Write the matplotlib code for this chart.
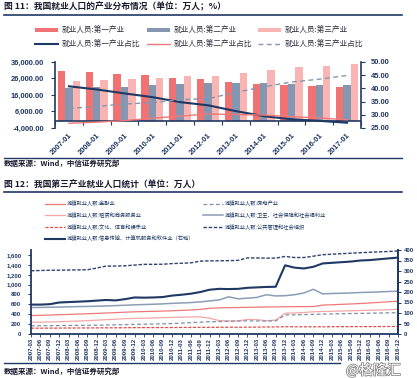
import matplotlib
matplotlib.use('Agg')
import matplotlib.pyplot as plt
from matplotlib.lines import Line2D
import matplotlib.patheffects as pe
import numpy as np

W, H = 417, 378
CJK = ['Noto Sans CJK SC', 'DejaVu Sans']
NUM = ['Liberation Sans', 'DejaVu Sans']
NAVY = '#1F3864'

# ---------------- Chart 1 data ----------------
years = ['2007-01', '2008-01', '2009-01', '2010-01', '2011-01', '2012-01',
         '2013-01', '2014-01', '2015-01', '2016-01', '2017-01']
primary = [30731, 29923, 28890, 27931, 26594, 25773, 24171, 22790, 21919, 21496, 20944]
secondary = [20186, 20553, 21080, 21842, 22544, 23241, 23170, 23099, 22693, 22350, 21824]
tertiary = [24404, 25087, 25857, 26332, 27282, 27690, 29636, 31364, 32839, 33757, 34872]
primary_share = [40.8, 39.6, 38.1, 36.7, 34.8, 33.6, 31.4, 29.5, 28.3, 27.7, 27.0]
secondary_share = [26.8, 27.2, 27.8, 28.7, 29.5, 30.3, 30.1, 29.9, 29.3, 28.8, 28.1]
tertiary_share = [32.4, 33.2, 34.1, 34.6, 35.7, 36.1, 38.5, 40.6, 42.4, 43.5, 44.9]
left_ticks1 = [-4000, 6000, 16000, 26000, 36000]
right_ticks1 = [25, 30, 35, 40, 45, 50]

# ---------------- Chart 2 data ----------------
quarters = ['2007-03', '2007-06', '2007-09', '2007-12', '2008-03', '2008-06', '2008-09', '2008-12',
            '2009-03', '2009-06', '2009-09', '2009-12', '2010-03', '2010-06', '2010-09', '2010-12',
            '2011-03', '2011-06', '2011-09', '2011-12', '2012-03', '2012-06', '2012-09', '2012-12',
            '2013-03', '2013-06', '2013-09', '2013-12', '2014-03', '2014-06', '2014-09', '2014-12',
            '2015-03', '2015-06', '2015-09', '2015-12', '2016-03', '2016-06', '2016-09', '2016-12']
finance = [372, 378, 384, 390, 396, 403, 410, 417, 425, 433, 441, 449, 454, 459, 464, 470,
           478, 486, 500, 520, 528, 533, 536, 540, 543, 546, 549, 552, 553, 554, 556, 585,
           592, 600, 608, 617, 628, 640, 652, 665]
real_estate = [166, 167, 168, 170, 172, 174, 176, 178, 182, 186, 190, 194, 198, 202, 206, 211,
               220, 230, 240, 248, 252, 258, 263, 268, 263, 263, 265, 385, 388, 392, 398, 402,
               406, 410, 414, 417, 421, 425, 428, 431]
leasing = [236, 240, 244, 249, 255, 262, 270, 280, 290, 300, 310, 315, 320, 325, 330, 335,
           340, 345, 348, 318, 270, 264, 265, 295, 290, 270, 280, 420, 425, 435, 450, 455,
           460, 465, 470, 475, 480, 485, 490, 500]
health = [535, 538, 542, 545, 550, 555, 558, 562, 568, 575, 582, 590, 596, 602, 610, 620,
          628, 636, 650, 670, 690, 752, 712, 725, 740, 795, 770, 775, 795, 830, 905, 812,
          820, 825, 830, 840, 845, 852, 860, 867]
culture = [118, 118, 119, 120, 121, 122, 123, 124, 125, 126, 127, 129, 129, 130, 130, 131,
           132, 133, 134, 135, 136, 137, 137, 138, 140, 142, 144, 147, 146, 146, 146, 146,
           147, 148, 149, 150, 150, 151, 151, 152]
public_admin = [1280, 1285, 1290, 1292, 1295, 1298, 1300, 1335, 1375, 1375, 1380, 1395,
                1410, 1410, 1412, 1425, 1432, 1440, 1475, 1480, 1482, 1485, 1490, 1540,
                1538, 1535, 1535, 1570, 1548, 1548, 1575, 1605, 1615, 1625, 1635, 1645,
                1655, 1662, 1670, 1680]
info_tech = [140, 140, 142, 150, 152, 154, 156, 159, 162, 160, 166, 174, 173, 174, 176, 183,
             187, 192, 200, 211, 215, 214, 215, 220, 222, 224, 225, 327, 316, 312, 320, 336,
             339, 342, 345, 350, 352, 356, 360, 364]
left_ticks2 = [0, 200, 400, 600, 800, 1000, 1200, 1400, 1600]
right_ticks2 = [0, 50, 100, 150, 200, 250, 300, 350, 400]

fig = plt.figure(figsize=(W / 100, H / 100), dpi=100)
fig.patch.set_facecolor('white')


def fx(x):
    return x / W


def fy(y):
    return 1 - y / H


def hline(y, x0=4, x1=402, lw=1.2, color=NAVY):
    fig.add_artist(Line2D([fx(x0), fx(x1)], [fy(y), fy(y)], color=color, lw=lw,
                          transform=fig.transFigure))


# ---------------- Titles / separators ----------------
fig.text(fx(4), fy(7), '图 11：我国就业人口的产业分布情况（单位：万人；%）', family=CJK,
         fontsize=6.3, fontweight='bold', color='#1a1a2e', va='center', ha='left')
hline(14.5)
fig.text(fx(4), fy(163), '数据来源：Wind，中信证券研究部', family=CJK, fontsize=5.4,
         fontweight='bold', color='#1a1a2e', va='center', ha='left')
hline(158, lw=1.0)

fig.text(fx(4), fy(185), '图 12：我国第三产业就业人口统计（单位：万人）', family=CJK,
         fontsize=6.3, fontweight='bold', color='#1a1a2e', va='center', ha='left')
hline(192)
hline(363, x1=340, lw=1.0)
fig.text(fx(4), fy(371), '数据来源：Wind，中信证券研究部', family=CJK, fontsize=5.4,
         fontweight='bold', color='#1a1a2e', va='center', ha='left')

# ---------------- Chart 1 ----------------
ax1 = fig.add_axes([fx(55), fy(128), 306 / W, 66 / H])
x = np.arange(len(years))
bw = 0.265
b1 = ax1.bar(x - bw, primary, bw, color='#F07272', label='就业人员:第一产业', zorder=2)
b2 = ax1.bar(x, secondary, bw, color='#8496B0', label='就业人员:第二产业', zorder=2)
b3 = ax1.bar(x + bw, tertiary, bw, color='#F9B4B4', label='就业人员:第三产业', zorder=2)
ax1.set_xlim(-0.5, len(years) - 0.5)
ax1.set_ylim(-4000, 36000)
ax1.axhline(0, color=NAVY, lw=1.2, zorder=3)
ax1.vlines(np.arange(len(years) + 1) - 0.5, -2200, 0, color=NAVY, lw=0.8, clip_on=False)
for s in ['top', 'bottom', 'right']:
    ax1.spines[s].set_visible(False)
ax1.spines['left'].set_color(NAVY)
ax1.spines['left'].set_linewidth(1.2)
ax1.set_yticks(left_ticks1)
ax1.set_yticklabels([f'{v:,.2f}' for v in left_ticks1])
ax1.tick_params(axis='y', length=3, width=0.8, color=NAVY, pad=5, labelsize=5.4,
                labelcolor=NAVY)
ax1.set_xticks(x)
ax1.set_xticklabels(years)
ax1.tick_params(axis='x', length=0, pad=3, labelsize=5.4, labelcolor=NAVY)
for lab in ax1.get_xticklabels() + ax1.get_yticklabels():
    lab.set_family(NUM)
    lab.set_fontweight('bold')
for lab in ax1.get_xticklabels():
    lab.set_rotation(45)
    lab.set_ha('right')
    lab.set_va('top')
    lab.set_rotation_mode('anchor')

ax1r = ax1.twinx()
ax1r.set_ylim(25, 50)
l1, = ax1r.plot(x, primary_share, color=NAVY, lw=1.5, label='就业人员:第一产业占比')
l2, = ax1r.plot(x, secondary_share, color='#F07878', lw=1.0, label='就业人员:第二产业占比')
l3, = ax1r.plot(x, tertiary_share, color='#8496B0', lw=1.0, ls=(0, (3.5, 2.5)),
                label='就业人员:第三产业占比')
for s in ['top', 'bottom', 'left']:
    ax1r.spines[s].set_visible(False)
ax1r.spines['right'].set_color(NAVY)
ax1r.spines['right'].set_linewidth(1.2)
ax1r.set_yticks(right_ticks1)
ax1r.set_yticklabels([f'{v:.2f}' for v in right_ticks1])
ax1r.tick_params(axis='y', length=3, width=0.8, color=NAVY, pad=4, labelsize=5.4,
                 labelcolor=NAVY)
for lab in ax1r.get_yticklabels():
    lab.set_family(NUM)
    lab.set_fontweight('bold')

leg1 = fig.legend([b1, l1, b2, l2, b3, l3],
                  [b1.get_label(), l1.get_label(), b2.get_label(), l2.get_label(),
                   b3.get_label(), l3.get_label()],
                  ncol=3, loc='upper left', bbox_to_anchor=(fx(35), fy(26.5)),
                  frameon=False, borderpad=0, borderaxespad=0,
                  prop={'family': CJK, 'size': 5.5},
                  handlelength=3.0, handleheight=0.45, handletextpad=0.5,
                  columnspacing=0.85, labelspacing=0.8, labelcolor='#2b2b3b')

# ---------------- Chart 2 ----------------
ax2 = fig.add_axes([fx(31), fy(334), 367 / W, 84 / H])
q = np.arange(len(quarters))
c_fin, = ax2.plot(q, finance, color='#F07878', lw=0.9, label='城镇就业人数:金融业')
c_lea, = ax2.plot(q, leasing, color='#F5A6A6', lw=0.9, label='城镇就业人数:租赁和商务服务业')
c_cul, = ax2.plot(q, culture, color='#E34A4A', lw=0.9, ls=(0, (2.5, 1.2)),
                  label='城镇就业人数:文化、体育和娱乐业')
c_re, = ax2.plot(q, real_estate, color='#7F8FA8', lw=0.9, ls=(0, (3, 2)),
                 label='城镇就业人数:房地产业')
c_hea, = ax2.plot(q, health, color='#8C9DB5', lw=1.1, label='城镇就业人数:卫生、社会保障和社会福利业')
c_pub, = ax2.plot(q, public_admin, color='#2E4470', lw=1.0, ls=(0, (2.5, 1.2)),
                  label='城镇就业人数:公共管理和社会组织')
ax2.set_xlim(0, len(quarters) - 1)
ax2.set_ylim(0, 1700)
ax2.spines['top'].set_visible(False)
for s in ['left', 'bottom', 'right']:
    ax2.spines[s].set_color(NAVY)
    ax2.spines[s].set_linewidth(1.3)
ax2.set_yticks(left_ticks2)
ax2.set_yticklabels([f'{v:,}' for v in left_ticks2])
ax2.tick_params(axis='y', length=2, width=0.7, color=NAVY, pad=5, labelsize=4.3,
                labelcolor=NAVY)
ax2.set_xticks(q)
ax2.set_xticklabels(quarters, rotation=90)
ax2.tick_params(axis='x', length=2, width=0.6, color=NAVY, pad=1, labelsize=4.3,
                labelcolor=NAVY)
for lab in ax2.get_xticklabels() + ax2.get_yticklabels():
    lab.set_family(NUM)
    lab.set_fontweight('bold')

ax2r = ax2.twinx()
c_inf, = ax2r.plot(q, info_tech, color=NAVY, lw=1.5,
                   label='城镇就业人数:信息传输、计算机服务和软件业（右轴）')
ax2r.set_ylim(0, 400)
for s in ['top', 'left', 'bottom']:
    ax2r.spines[s].set_visible(False)
ax2r.spines['right'].set_color(NAVY)
ax2r.spines['right'].set_linewidth(1.3)
ax2r.set_yticks(right_ticks2)
ax2r.tick_params(axis='y', length=2, width=0.7, color=NAVY, pad=2, labelsize=4.3,
                 labelcolor=NAVY)
for lab in ax2r.get_yticklabels():
    lab.set_family(NUM)
    lab.set_fontweight('bold')

handles2 = [c_fin, c_lea, c_cul, c_inf, c_re, c_hea, c_pub]
fig.legend(handles2, [h.get_label() for h in handles2], ncol=2, loc='upper left',
           bbox_to_anchor=(fx(45), fy(201)), frameon=False, borderpad=0,
           borderaxespad=0, prop={'family': CJK, 'size': 3.8},
           handlelength=3.8, handletextpad=0.4, columnspacing=1.5, labelspacing=1.15,
           labelcolor=NAVY)

# watermark
fig.text(fx(346), fy(370.5), '@格隆汇', family=CJK, fontsize=10, color='white',
         va='center', ha='left',
         path_effects=[pe.withStroke(linewidth=1.2, foreground='#8a8a8a')])

fig.savefig('out.png', dpi=100, facecolor='white')
